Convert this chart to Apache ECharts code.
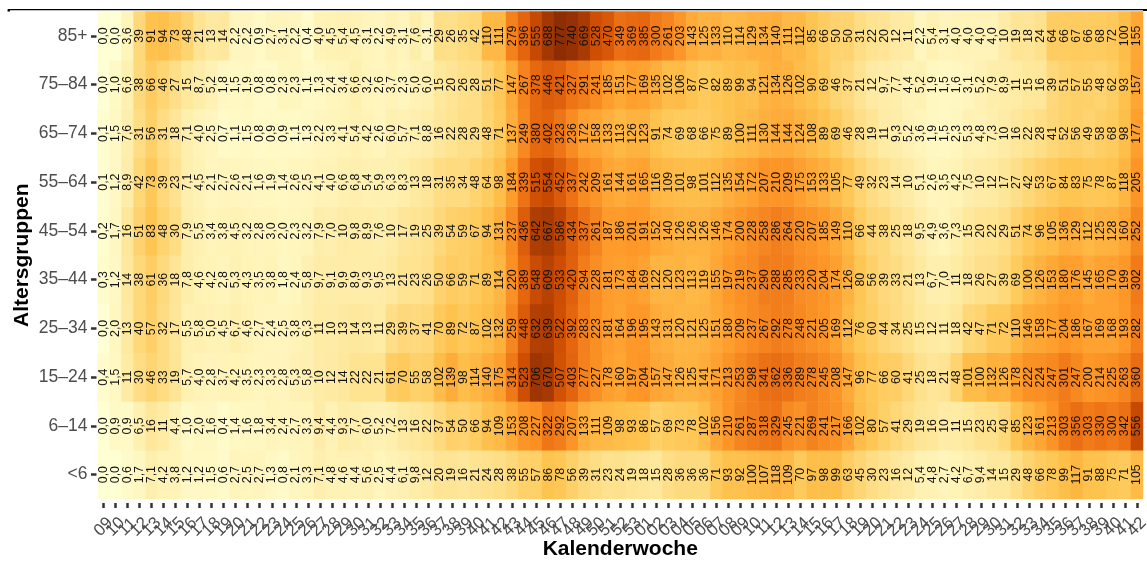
<!DOCTYPE html>
<html><head><meta charset="utf-8">
<style>html,body{margin:0;padding:0;background:#fff}#c{width:1147px;height:561px}</style>
<script src="https://cdn.jsdelivr.net/npm/echarts@6/dist/echarts.min.js"></script>
</head><body><div id="c"></div>
<script>
const weeks = ['09','10','11','12','13','14','15','16','17','18','19','20','21','22','23','24','25','26','27','28','29','30','31','32','33','34','35','36','37','38','39','40','41','42','43','44','45','46','47','48','49','50','51','52','53','01','02','03','04','05','06','07','08','09','10','11','12','13','14','15','16','17','18','19','20','21','22','23','24','25','26','27','28','29','30','31','32','33','34','35','36','37','38','39','40','41','42'];
const ages = ['<6','6–14','15–24','25–34','35–44','45–54','55–64','65–74','75–84','85+'];
const r0 = [0,0,0.6,1.7,7.1,4.2,3.8,1.2,1.2,1.5,0.6,2.7,2.5,2.7,1.3,0.8,2.1,3.3,7.1,4.8,4.6,4.4,5.6,2.5,4.4,6.1,9.8,12,20,19,16,21,24,28,38,55,57,86,78,56,39,31,23,24,19,18,15,28,36,36,36,71,93,92,100,107,118,109,70,97,98,99,63,45,30,23,16,12,5.4,4.8,2.7,4.2,6.7,9.4,14,15,29,48,66,78,99,117,91,88,75,71,105];
const r1 = [0,0.9,0.9,6.5,16,11,4.4,1.0,2.0,1.6,0.4,1.4,1.6,1.8,3.4,2.4,2.7,3.3,9.4,4.4,9.3,7.7,6.0,5.2,7.2,13,16,22,37,54,50,66,94,109,153,208,227,322,292,207,133,111,109,98,93,86,57,69,73,78,102,156,210,261,287,318,329,245,221,269,241,217,166,102,80,57,41,29,19,16,10,11,15,23,25,40,85,123,161,213,303,356,303,330,300,342,556];
const r2 = [0.4,1.5,11,30,46,33,19,5.7,4.0,2.8,3.7,4.2,3.5,2.3,3.3,2.8,5.3,5.8,10,12,14,22,22,21,61,70,55,58,102,139,98,114,140,175,314,523,706,670,507,403,277,227,178,160,197,204,157,147,126,125,141,171,213,253,298,341,362,336,289,278,245,208,147,96,77,66,60,41,25,18,21,48,101,100,132,126,178,222,224,247,301,247,200,214,225,263,360];
const r3 = [0,2.0,13,40,57,32,17,5.5,5.8,5.0,4.5,6.7,4.6,2.7,2.4,2.5,3.8,6.3,11,10,13,14,13,11,29,39,37,41,70,89,72,87,102,132,259,448,632,639,522,392,283,223,181,164,196,195,143,131,120,121,125,151,180,209,237,267,292,278,248,221,205,169,112,76,60,44,34,25,15,12,11,18,42,47,71,72,110,146,158,177,204,186,167,169,168,193,282];
const r4 = [0.3,1.2,14,38,61,36,18,7.8,4.6,4.2,2.8,5.3,4.3,3.5,3.8,1.8,2.4,5.8,9.7,9.1,9.9,8.9,9.3,9.5,13,21,23,26,50,66,59,71,89,114,220,389,548,609,533,420,294,228,181,173,184,169,122,120,123,113,119,155,197,219,237,290,288,285,233,220,204,174,126,80,56,39,33,21,13,6.7,7.0,11,18,26,27,39,69,100,126,153,180,176,145,165,170,199,302];
const r5 = [0.2,1.7,16,51,83,48,30,7.9,5.5,3.4,3.8,4.5,3.2,2.8,3.0,2.0,2.3,3.2,7.9,7.0,10,9.8,8.9,7.6,10,17,19,25,39,54,59,67,94,131,237,436,642,667,586,434,337,261,187,186,201,191,152,140,126,126,126,146,174,200,228,258,286,264,220,207,185,149,110,66,44,38,25,18,9.5,4.9,3.6,7.3,15,20,22,29,51,74,96,105,136,129,112,125,128,160,252];
const r6 = [0.1,1.2,8.9,42,73,39,23,7.1,4.5,2.1,2.7,2.6,2.1,1.6,1.9,1.4,2.6,2.5,4.1,4.0,6.6,6.8,5.4,5.9,6.3,8.3,13,18,31,35,34,48,64,98,184,339,515,554,452,337,242,209,161,144,161,165,116,109,101,98,101,112,135,154,172,207,210,209,175,153,133,105,77,49,32,23,14,10,5.1,2.6,3.5,4.2,7.5,10,12,17,27,42,53,67,84,83,75,78,87,118,205];
const r7 = [0.1,1.5,7.6,31,56,31,18,7.1,4.0,2.5,0.7,1.1,1.5,0.8,0.9,0.9,1.1,1.3,2.2,3.3,4.1,5.4,4.2,2.6,6.0,5.7,7.1,8.8,16,22,28,29,48,71,137,249,380,402,323,236,172,158,133,113,126,123,91,74,69,68,66,75,89,100,111,130,144,144,124,108,89,69,46,28,19,11,9.3,5.2,3.6,1.9,1.5,2.3,5.3,4.8,7.3,10,16,22,28,41,52,56,49,58,68,98,177];
const r8 = [0,1.0,6.6,38,66,46,27,15,8.7,5.2,1.8,1.5,1.9,0.8,0.8,2.3,2.3,1.1,1.3,2.4,3.4,6.6,3.2,2.6,3.7,2.3,5.0,6.0,15,20,26,28,51,77,147,267,378,446,421,327,291,241,185,151,177,169,135,102,106,87,70,82,89,99,94,121,134,126,102,90,69,46,37,21,12,9.7,7.7,4.4,5.2,1.9,1.5,1.6,3.1,5.2,7.9,8.9,11,15,16,39,51,57,55,48,62,93,157];
const r9 = [0,0,3.6,39,91,94,73,48,21,13,14,2.2,2.2,0.9,2.7,3.1,2.2,0.4,4.0,4.5,5.4,4.5,3.1,2.2,4.9,3.1,7.6,3.1,29,26,35,42,110,111,279,396,555,688,777,740,669,528,470,349,369,385,300,261,203,143,125,133,110,114,129,134,140,111,112,85,66,50,50,31,22,20,12,11,2.2,5.4,3.1,4.0,4.0,4.0,4.0,10,19,18,24,64,66,67,66,68,72,100,155];
const rows = [r0,r1,r2,r3,r4,r5,r6,r7,r8,r9];
const palette = ['#FFFFD4','#FEE391','#FEC44F','#FE9929','#EC7014','#CC4C02','#8C2D04'];
const data = [];
rows.forEach((r,y)=>r.forEach((v,x)=>data.push([x,y,v,Math.sqrt(v)])));
const fmt = v => v < 10 ? v.toFixed(1).replace('.',',') : String(v);
const chart = echarts.init(document.getElementById('c'),null,{renderer:'canvas'});
chart.setOption({
  animation:false,
  backgroundColor:'#fff',
  textStyle:{fontFamily:'"Liberation Sans",Arial,sans-serif'},
  grid:{left:97.5,right:4,top:11.5,bottom:62,containLabel:false,outerBoundsMode:'none'},
  xAxis:{type:'category',data:weeks,name:'Kalenderwoche',nameLocation:'middle',nameGap:36,nameMoveOverlap:false,offset:4,
    nameTextStyle:{fontSize:21,fontWeight:'bold',color:'#000'},
    axisLine:{show:false},axisTick:{show:true,alignWithLabel:true,length:5,lineStyle:{color:'#333',width:2.5}},
    axisLabel:{interval:0,rotate:45,fontSize:17,color:'#4D4D4D',margin:24,align:'center',verticalAlign:'middle'},
    splitLine:{show:false}},
  yAxis:{type:'category',data:ages,name:'Altersgruppen',nameLocation:'middle',nameGap:64,nameMoveOverlap:false,offset:1,
    nameTextStyle:{fontSize:21,fontWeight:'bold',color:'#000'},
    axisLine:{show:false},axisTick:{show:true,alignWithLabel:true,length:5.5,lineStyle:{color:'#333',width:2.5}},
    axisLabel:{fontSize:17.5,color:'#4D4D4D',margin:9},
    splitLine:{show:false}},
  visualMap:{show:false,type:'continuous',dimension:3,min:0,max:Math.sqrt(777),inRange:{color:palette},seriesIndex:0},
  series:[{type:'heatmap',data:data,encode:{x:0,y:1},
    progressive:0,
    label:{show:true,rotate:90,fontSize:12.4,color:'#111',formatter:p=>fmt(p.value[2])},
    itemStyle:{borderWidth:0},emphasis:{disabled:true}}],
  graphic:[
    {type:'rect',shape:{x:8,y:9,width:1139,height:1.3},style:{fill:'#000'},silent:true},
    {type:'rect',shape:{x:7.5,y:9.5,width:2.5,height:2},style:{fill:'#000'},silent:true},
    {type:'rect',shape:{x:1143,y:9.5,width:4,height:1.5},style:{fill:'#000'},silent:true}
  ]
});
</script></body></html>
